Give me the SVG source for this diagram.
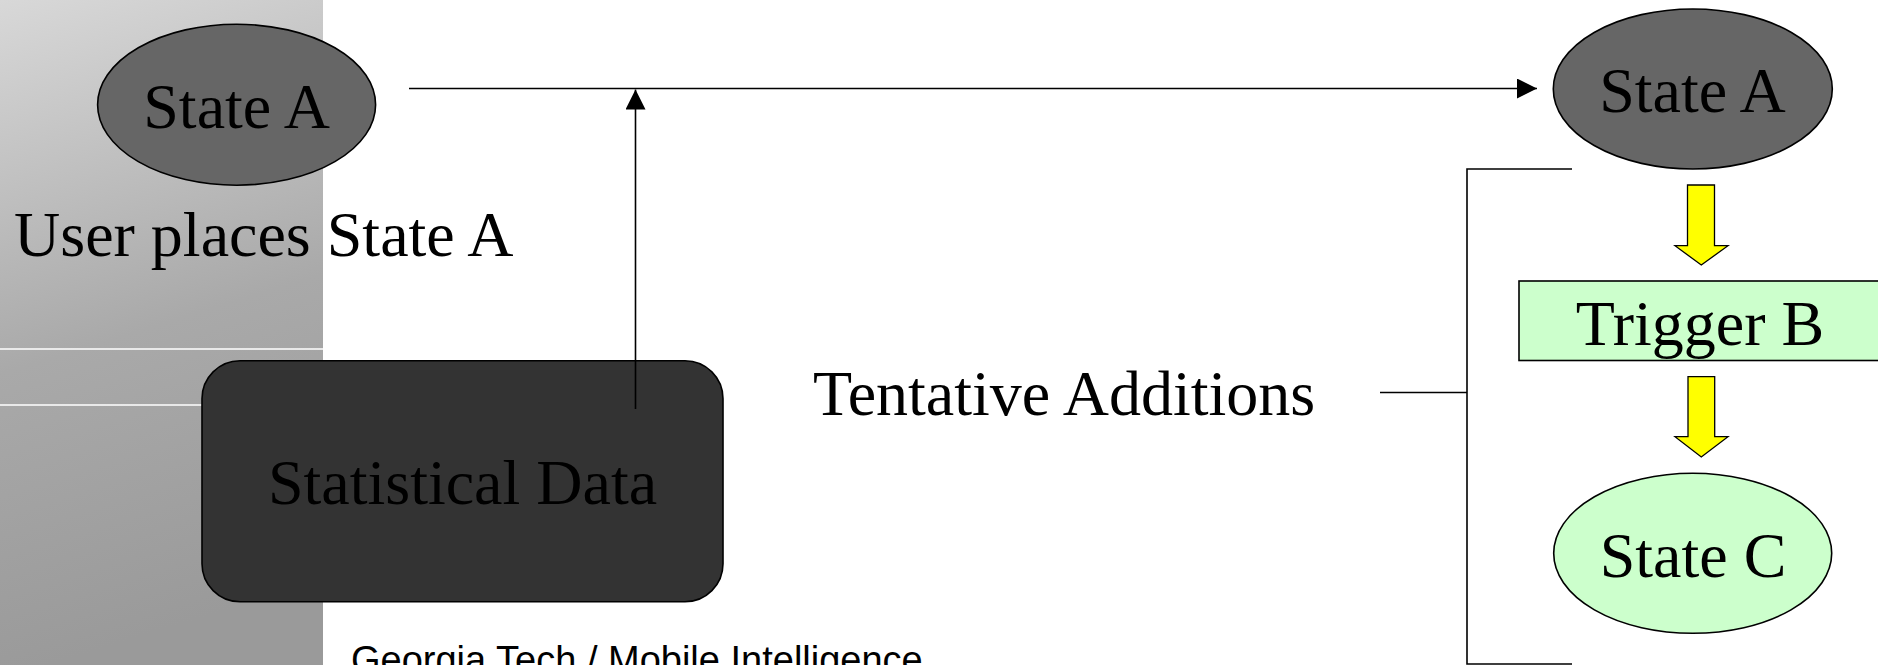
<svg xmlns="http://www.w3.org/2000/svg" width="1878" height="665" viewBox="0 0 1878 665">
  <style>
    .serif { font-family: "Liberation Serif", "Times New Roman", serif; font-size: 64px; fill: #000; }
    .sans { font-family: "Liberation Sans", Arial, sans-serif; font-size: 38px; fill: #000; }
    .edge { stroke: #000; stroke-width: 1.6; fill: none; }
    .gray { fill: #666666; stroke: #000; stroke-width: 1.6; }
    .dark { fill: #333333; stroke: #000; stroke-width: 1.6; }
    .green { fill: #CCFFCC; stroke: #000; stroke-width: 1.6; }
    .yellow { fill: #FFFF00; stroke: #000; stroke-width: 1.3; }
  </style>
  <defs>
    <linearGradient id="panelGrad" x1="0" y1="0" x2="0.15" y2="1">
      <stop offset="0" stop-color="#d8d8d8"/>
      <stop offset="0.55" stop-color="#a9a9a9"/>
      <stop offset="1" stop-color="#9a9a9a"/>
    </linearGradient>
    <marker id="arrow" viewBox="0 0 20 20" refX="20" refY="10" markerWidth="20" markerHeight="20" markerUnits="userSpaceOnUse" orient="auto">
      <path d="M0,0 L20,10 L0,20 z" fill="#000"/>
    </marker>
  </defs>

  <rect x="0" y="0" width="1878" height="665" fill="#fff"/>

  <g id="background-panel">
    <rect x="0" y="0" width="323" height="665" fill="url(#panelGrad)"/>
    <line x1="0" y1="349" x2="323" y2="349" stroke="#fff" stroke-width="1.6"/>
    <line x1="0" y1="405" x2="323" y2="405" stroke="#fff" stroke-width="1.6"/>
  </g>

  <g id="state-a-left">
    <ellipse class="gray" cx="236.6" cy="104.7" rx="139" ry="80.5"/>
    <text class="serif" x="236.6" y="128" text-anchor="middle">State A</text>
  </g>

  <g id="label-user-places">
    <text class="serif" x="14" y="256">User places State A</text>
  </g>

  <g id="statistical-data">
    <rect class="dark" x="202" y="360.7" width="521" height="241" rx="38" ry="38"/>
    <text class="serif" x="462.5" y="504" text-anchor="middle">Statistical Data</text>
  </g>

  <g id="label-tentative">
    <text class="serif" x="813" y="415">Tentative Additions</text>
  </g>

  <g id="state-a-right">
    <ellipse class="gray" cx="1692.8" cy="89" rx="139.5" ry="80"/>
    <text class="serif" x="1692.5" y="111.7" text-anchor="middle">State A</text>
  </g>

  <g id="trigger-b">
    <rect class="green" x="1519" y="281" width="362" height="79.5"/>
    <text class="serif" x="1700" y="345" text-anchor="middle">Trigger B</text>
  </g>

  <g id="state-c">
    <ellipse class="green" cx="1692.7" cy="553.3" rx="139" ry="80"/>
    <text class="serif" x="1693" y="576.7" text-anchor="middle">State C</text>
  </g>

  <g id="footer">
    <text class="sans" x="351" y="673">Georgia Tech / Mobile Intelligence</text>
  </g>

  <g id="connectors">
    <line class="edge" x1="409" y1="88.5" x2="1537" y2="88.5" marker-end="url(#arrow)"/>
    <line class="edge" x1="635.5" y1="409" x2="635.5" y2="89.5" marker-end="url(#arrow)"/>
    <path class="edge" d="M1572,169 H1467 V664 H1572"/>
    <line class="edge" x1="1380" y1="392.5" x2="1467" y2="392.5"/>
    <polygon class="yellow" points="1687.5,185 1714.5,185 1714.5,245.7 1728,245.7 1701.3,265 1675,245.7 1687.5,245.7"/>
    <polygon class="yellow" points="1688,376.7 1714.7,376.7 1714.7,436.7 1728,436.7 1701.3,457 1675,436.7 1688,436.7"/>
  </g>
</svg>
